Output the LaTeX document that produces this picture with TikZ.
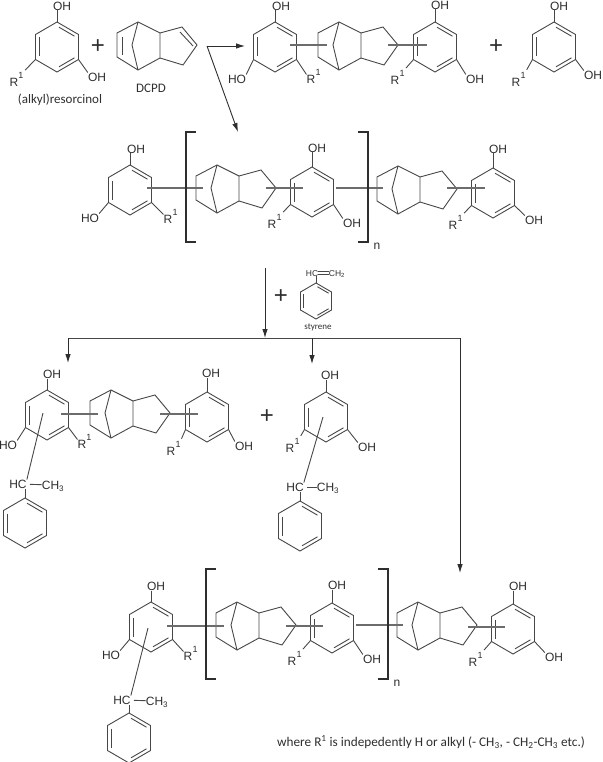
\documentclass[tikz,border=0pt]{standalone}
\usepackage{fontspec}
\setmainfont{Liberation Sans}
\newfontfamily\capfont{Carlito}
\usetikzlibrary{arrows.meta}
\definecolor{bondgray}{gray}{0.28}
\definecolor{inkgray}{gray}{0.18}
\tikzset{
    bond/.style={draw=bondgray,line width=0.9pt},
    graybond/.style={draw=bondgray!80,line width=1.2pt},
    brack/.style={draw=inkgray,line width=1.2pt},
    flow/.style={draw=inkgray,line width=0.9pt,-{Latex[length=9pt,width=5.5pt]}},
    flowline/.style={draw=bondgray,line width=1pt},
    chem/.style={inner sep=0pt,text height=8.6pt,text depth=0pt,text=inkgray,font=\fontsize{12}{12}\selectfont},
    supnum/.style={chem,text height=6.5pt,font=\fontsize{9}{9}\selectfont},
    plus/.style={inner sep=0pt,text=inkgray,font=\fontsize{24}{24}\selectfont},
    caption/.style={inner sep=0pt,text=inkgray,font=\capfont\fontsize{13}{13}\selectfont},
    pics/benzring/.style={code={
        \coordinate (v1) at (0,-25);
        \coordinate (v2) at (21.5,-12.5);
        \coordinate (v3) at (21.5,12.5);
        \coordinate (v4) at (0,25);
        \coordinate (v5) at (-21.5,12.5);
        \coordinate (v6) at (-21.5,-12.5);
        \draw[bond] (v1) -- (v2) -- (v3) -- (v4) -- (v5) -- (v6) -- cycle;
        \draw[bond] (2,-19.8) -- (17.5,-10.8);
        \draw[bond] (2,19.8) -- (17.5,10.8);
        \draw[bond] (-17.2,-9.5) -- (-17.2,9.5);
    }},
    pics/cage/.style={code={
        \coordinate (t) at (0,0);
        \coordinate (b) at (0,48);
        \coordinate (m) at (-6,23);
        \draw[bond] (t) -- (-21,11) -- (-21,35) -- (b) -- (22,36) -- (22,11) -- cycle;
        \draw[bond] (t) -- (m) -- (b);
        \draw[bond] (22,11) -- (44,5) -- (59,23) -- (45,43) -- (22,36);
    }},
}
\newcommand{\rone}[3]{
    \node[chem] (r#1) at (#2,#3) {R};
    \node[supnum] (s#1) at ([shift={(7,-7)}]r#1.center) {1};
}
\newcommand{\linker}[4]{
    \coordinate (#1a) at (#2,#4);
    \coordinate (#1b) at (#3,#4);
    \draw[graybond] (#1a) -- (#1b);
}
\begin{document}
\begin{tikzpicture}[x=1pt,y=-1pt]
    \useasboundingbox (0,0) rectangle (602,762);

    \foreach \nm/\cx/\cy in {a/57/47,b/275/47,c/435/47,d/554/47,e/130/190,f/312/192,g/493/193,h/47/415,i/207/417,j/326/417,k/151/627,l/332/628,m/513/629,ph/25/523,pj/300/526,pk/129/738}
        \pic (\nm) at (\cx,\cy) {benzring};
    \pic[scale=.72] (st) at (316,301) {benzring};

    \foreach \nm/\cx/\cy in {ca/138/22,cb/339/22,cc/217/165,cd/398/166,ce/111/390,cf/237/602,cg/418/602}
        \pic (\nm) at (\cx,\cy) {cage};
    \draw[bond] (122.5,37) -- (122.5,55);
    \draw[bond] (180,32) -- (193,46);

    \node[chem] (oha) at (62,6) {OH};
    \node[chem] (ohab) at (97,77) {OH};
    \rone{a}{14}{82}
    \draw[bond] (av1) -- (av1 |- oha.south);
    \draw[bond] (av3) -- (ohab.north west);
    \draw[bond,shorten >=2pt] (av5) -- (sa.north east);

    \node[chem] (ohb) at (281,6) {OH};
    \node[chem] (hob) at (237,79) {HO};
    \rone{b}{311}{79}
    \draw[bond] (bv1) -- (bv1 |- ohb.south);
    \draw[bond] (bv5) -- (hob.north east);
    \draw[bond] (bv3) -- (rb.north west);
    \node[chem] (ohc) at (440,5) {OH};
    \node[chem] (ohcb) at (475,79) {OH};
    \rone{c}{395}{80}
    \draw[bond] (cv1) -- (cv1 |- ohc.south);
    \draw[bond] (cv3) -- (ohcb.north west);
    \draw[bond,shorten >=2pt] (cv5) -- (sc.north east);
    \node[chem] (ohd) at (559,6) {OH};
    \node[chem] (ohdb) at (593,75) {OH};
    \rone{d}{516}{82}
    \draw[bond] (dv1) -- (dv1 |- ohd.south);
    \draw[bond] (dv3) -- (ohdb.north west);
    \draw[bond,shorten >=2pt] (dv5) -- (sd.north east);
    \linker{la}{290}{327}{45}
    \linker{lb}{388}{427}{45}

    \node[chem] (ohe) at (136,149) {OH};
    \node[chem] (hoe) at (90,218) {HO};
    \rone{e}{168}{219}
    \draw[bond] (ev1) -- (ev1 |- ohe.south);
    \draw[bond] (ev5) -- (hoe.north east);
    \draw[bond] (ev3) -- (re.north west);
    \node[chem] (ohf) at (317,148) {OH};
    \node[chem] (ohfb) at (352,223) {OH};
    \rone{f}{272}{224}
    \draw[bond] (fv1) -- (fv1 |- ohf.south);
    \draw[bond] (fv3) -- (ohfb.north west);
    \draw[bond,shorten >=2pt] (fv5) -- (sf.north east);
    \node[chem] (ohg) at (498,149) {OH};
    \node[chem] (ohgb) at (534,220) {OH};
    \rone{g}{453}{225}
    \draw[bond] (gv1) -- (gv1 |- ohg.south);
    \draw[bond] (gv3) -- (ohgb.north west);
    \draw[bond,shorten >=2pt] (gv5) -- (sg.north east);
    \linker{lc}{147}{203}{188}
    \linker{ld}{266}{303}{188}
    \linker{le}{336}{383}{188}
    \linker{lf}{447}{485}{188}
    \draw[brack] (196,132) -| (186,242) -- (196,242);
    \draw[brack] (358,132) -| (368,242) -- (358,242);
    \node[chem] (na) at (377,245) {n};

    \node[chem] (hcst) at (312,273) [font=\fontsize{8.5}{8.5}\selectfont,text height=6pt] {HC};
    \node[chem] (chst) at (337,273) [font=\fontsize{8.5}{8.5}\selectfont,text height=6pt] {CH\textsubscript{2}};
    \draw[bond] (stv1) -- (stv1 |- hcst.south);
    \draw[bond] ([yshift=-1.5pt]hcst.east) -- ([yshift=-1.5pt]chst.west);
    \draw[bond] ([yshift=1.5pt]hcst.east) -- ([yshift=1.5pt]chst.west);
    \node[caption,font=\capfont\fontsize{9}{9}\selectfont] (stcap) at (318,327) {styrene};

    \node[chem] (ohh) at (52,374) {OH};
    \node[chem] (hoh) at (8,445) {HO};
    \rone{h}{82}{444}
    \draw[bond] (hv1) -- (hv1 |- ohh.south);
    \draw[bond] (hv5) -- (hoh.north east);
    \draw[bond] (hv3) -- (rh.north west);
    \node[chem] (ohi) at (211,373) {OH};
    \node[chem] (ohib) at (244,446) {OH};
    \rone{i}{171}{451}
    \draw[bond] (iv1) -- (iv1 |- ohi.south);
    \draw[bond] (iv3) -- (ohib.north west);
    \draw[bond,shorten >=2pt] (iv5) -- (si.north east);
    \linker{lg}{61}{98}{414}
    \linker{lh}{160}{198}{414}
    \coordinate (subh) at (43,413);
    \node[chem] (hch) at (18,484) {HC};
    \node[chem] (chh) at (53,485) {CH\textsubscript{3}};
    \draw[bond] (subh) -- (hch.north east);
    \draw[bond,shorten <=3pt] (hch) -- (chh);
    \draw[bond] (phv1) -- (phv1 |- hch.south);

    \node[chem] (ohj) at (330,375) {OH};
    \node[chem] (ohjb) at (367,447) {OH};
    \rone{j}{290}{448}
    \draw[bond] (jv1) -- (jv1 |- ohj.south);
    \draw[bond] (jv3) -- (ohjb.north west);
    \draw[bond,shorten >=2pt] (jv5) -- (sj.north east);
    \coordinate (subj) at (323,417);
    \node[chem] (hcj) at (295,487) {HC};
    \node[chem] (chj) at (328,487) {CH\textsubscript{3}};
    \draw[bond] (subj) -- (hcj.north east);
    \draw[bond,shorten <=3pt] (hcj) -- (chj);
    \draw[bond] (pjv1) -- (pjv1 |- hcj.south);

    \node[chem] (ohk) at (156,586) {OH};
    \node[chem] (hok) at (111,655) {HO};
    \rone{k}{188}{656}
    \draw[bond] (kv1) -- (kv1 |- ohk.south);
    \draw[bond] (kv5) -- (hok.north east);
    \draw[bond] (kv3) -- (rk.north west);
    \node[chem] (ohl) at (337,585) {OH};
    \node[chem] (ohlb) at (372,659) {OH};
    \rone{l}{292}{661}
    \draw[bond] (lv1) -- (lv1 |- ohl.south);
    \draw[bond] (lv3) -- (ohlb.north west);
    \draw[bond,shorten >=2pt] (lv5) -- (sl.north east);
    \node[chem] (ohm) at (518,586) {OH};
    \node[chem] (ohmb) at (554,657) {OH};
    \rone{m}{473}{662}
    \draw[bond] (mv1) -- (mv1 |- ohm.south);
    \draw[bond] (mv3) -- (ohmb.north west);
    \draw[bond,shorten >=2pt] (mv5) -- (sm.north east);
    \linker{li}{167}{224}{626}
    \linker{lj}{286}{323}{626}
    \linker{lk}{356}{403}{625}
    \linker{ll}{468}{505}{627}
    \coordinate (subk) at (148,628);
    \node[chem] (hck) at (122,700) {HC};
    \node[chem] (chk) at (157,701) {CH\textsubscript{3}};
    \draw[bond] (subk) -- (hck.north east);
    \draw[bond,shorten <=3pt] (hck) -- (chk);
    \draw[bond] (pkv1) -- (pkv1 |- hck.south);
    \draw[brack] (216,569) -| (206,679) -- (216,679);
    \draw[brack] (378,569) -| (388,679) -- (378,679);
    \node[chem] (nb) at (397,682) {n};

    \node[plus] (pa) at (98,47) {+};
    \node[plus] (pb) at (496,47) {+};
    \node[plus] (pc) at (281,297) {+};
    \node[plus] (pd) at (267,417) {+};

    \node[caption] (capa) at (60,100) {(alkyl)resorcinol};
    \node[caption] (capb) at (151,88) {DCPD};
    \node[caption,anchor=west,font=\capfont\fontsize{13.25}{13.25}\selectfont] (capc) at (277,742) {where R\textsuperscript{1} is indepedently H or alkyl (- CH\textsubscript{3}, - CH\textsubscript{2}-CH\textsubscript{3} etc.)};

    \coordinate (fork) at (207,46);
    \coordinate (forkr) at (245,46);
    \coordinate (forkd) at (238,132);
    \draw[flow] (fork) -- (forkr);
    \draw[flow] (fork) -- (forkd);
    \coordinate (downa) at (265,268);
    \coordinate (downb) at (265,338);
    \coordinate (busl) at (68,338);
    \coordinate (busm) at (312,338);
    \coordinate (busr) at (460,338);
    \coordinate (tipl) at (68,363);
    \coordinate (tipm) at (312,364);
    \coordinate (tipr) at (460,573);
    \draw[flow] (downa) -- (downb);
    \draw[flowline] (busl) -- (busr);
    \draw[flow] (busl) -- (tipl);
    \draw[flow] (busm) -- (tipm);
    \draw[flow] (busr) -- (tipr);
\end{tikzpicture}
\end{document}
